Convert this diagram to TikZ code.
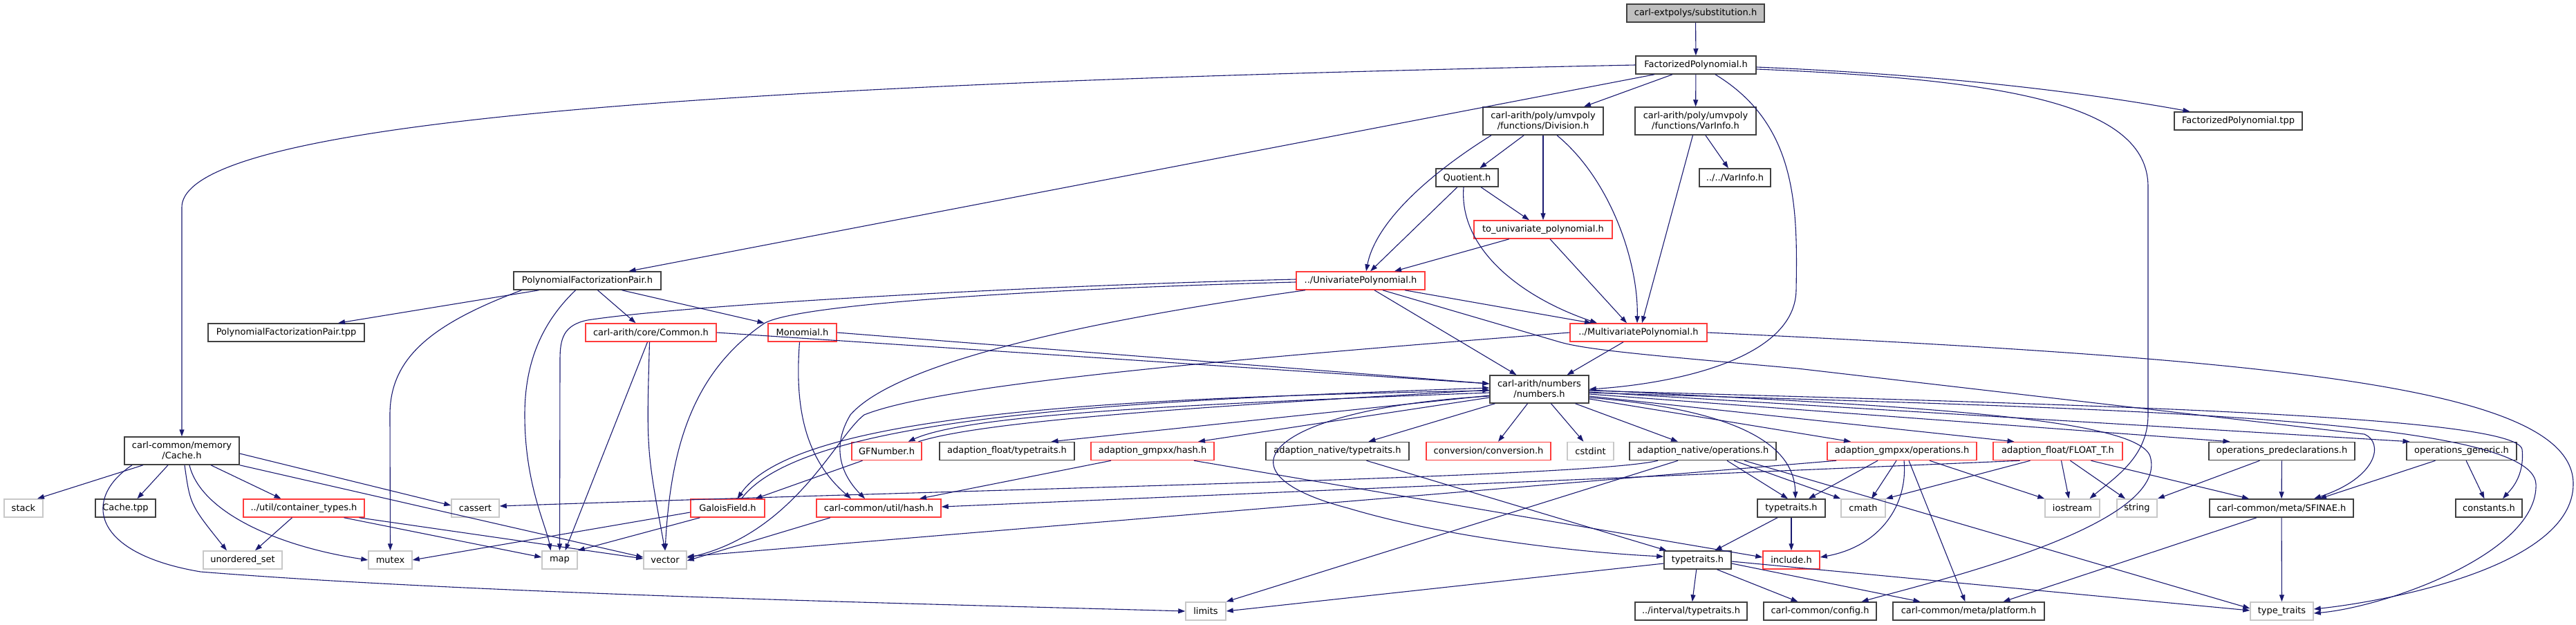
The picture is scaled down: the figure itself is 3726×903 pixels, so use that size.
\documentclass[tikz,border=0pt]{standalone}
\usepackage{fontspec}
\setmainfont{DejaVu Sans}
\usetikzlibrary{arrows.meta}
\definecolor{edgeblue}{HTML}{191970}
\definecolor{boxblack}{HTML}{404040}
\definecolor{boxred}{HTML}{FF3B3B}
\definecolor{boxgray}{HTML}{C8C8C8}
\definecolor{rootgray}{HTML}{BFBFBF}
\begin{document}
\begin{tikzpicture}[x=1pt,y=-1pt,
 hdr/.style={draw=boxblack, line width=1.5pt, fill=white, inner sep=0pt, minimum height=26pt, font=\fontsize{13}{15}\selectfont, align=center},
 hdrred/.style={hdr, draw=boxred},
 hdrsys/.style={hdr, draw=boxgray},
 dep/.style={draw=edgeblue, line width=1.1pt, -{Triangle[length=10pt,width=7pt]}}
]
\useasboundingbox (0,0) rectangle (3726,903);
% ---------- nodes ----------
\node[hdr, fill=rootgray, minimum width=199pt] (subst) at (2452.5,19) {carl-extpolys/substitution.h};
\node[hdr, minimum width=174pt] (fpoly) at (2453,94) {FactorizedPolynomial.h};
\node[hdr, minimum width=213pt] (pfp) at (849.5,406) {PolynomialFactorizationPair.h};
\node[hdr, minimum width=174pt, minimum height=40pt] (div) at (2232,175) {carl-arith/poly/umvpoly\\/functions/Division.h};
\node[hdr, minimum width=175pt, minimum height=40pt] (varinfo) at (2452.5,175) {carl-arith/poly/umvpoly\\/functions/VarInfo.h};
\node[hdr, minimum width=185pt] (fptpp) at (3237.5,175) {FactorizedPolynomial.tpp};
\node[hdr, minimum width=90pt] (quot) at (2122,257) {Quotient.h};
\node[hdr, minimum width=103pt] (vvinfo) at (2509.5,257) {../../VarInfo.h};
\node[hdrred, minimum width=200pt] (touni) at (2232,332) {to\_univariate\_polynomial.h};
\node[hdrred, minimum width=186pt] (uni) at (1968,406) {../UnivariatePolynomial.h};
\node[hdrred, minimum width=198pt] (multi) at (2370,481) {../MultivariatePolynomial.h};
\node[hdr, minimum width=226pt] (pfptpp) at (414,481) {PolynomialFactorizationPair.tpp};
\node[hdrred, minimum width=189pt] (common) at (941.5,481) {carl-arith/core/Common.h};
\node[hdrred, minimum width=99pt] (mono) at (1160.5,481) {Monomial.h};
\node[hdr, minimum width=166pt, minimum height=40pt] (cache) at (263,652) {carl-common/memory\\/Cache.h};
\node[hdr, minimum width=143pt, minimum height=40pt] (numbers) at (2226.5,563) {carl-arith/numbers\\/numbers.h};
% row 652
\node[hdrred, minimum width=101pt] (gfnum) at (1282.5,652.5) {GFNumber.h};
\node[hdr, minimum width=195pt] (aftt) at (1456.5,652.5) {adaption\_float/typetraits.h};
\node[hdrred, minimum width=178pt] (gmhash) at (1667,652.5) {adaption\_gmpxx/hash.h};
\node[hdr, minimum width=207pt] (nattt) at (1934.5,652.5) {adaption\_native/typetraits.h};
\node[hdrred, minimum width=180pt] (conv) at (2153,652.5) {conversion/conversion.h};
\node[hdrsys, minimum width=67pt] (cstdint) at (2300.5,652.5) {cstdint};
\node[hdr, minimum width=212pt] (natops) at (2463,652.5) {adaption\_native/operations.h};
\node[hdrred, minimum width=216pt] (gmops) at (2751,652.5) {adaption\_gmpxx/operations.h};
\node[hdrred, minimum width=187pt] (floatt) at (2976.5,652.5) {adaption\_float/FLOAT\_T.h};
\node[hdr, minimum width=211pt] (opspre) at (3300.5,652.5) {operations\_predeclarations.h};
\node[hdr, minimum width=159pt] (opsgen) at (3560.5,652.5) {operations\_generic.h};
% row 735
\node[hdrsys, minimum width=56pt] (stack) at (34,735) {stack};
\node[hdr, minimum width=87pt] (cachetpp) at (181.5,735) {Cache.tpp};
\node[hdrred, minimum width=175pt] (ctypes) at (439.5,735) {../util/container\_types.h};
\node[hdrsys, minimum width=69pt] (cassert) at (687.5,735) {cassert};
\node[hdrred, minimum width=107pt] (galois) at (1052.5,735) {GaloisField.h};
\node[hdrred, minimum width=180pt] (uhash) at (1271,735) {carl-common/util/hash.h};
\node[hdr, minimum width=98pt] (tta) at (2591,735) {typetraits.h};
\node[hdrsys, minimum width=64pt] (cmath) at (2695,735) {cmath};
\node[hdrsys, minimum width=79pt] (iostream) at (2997.5,735) {iostream};
\node[hdrsys, minimum width=58pt] (string) at (3091,735) {string};
\node[hdr, minimum width=208pt] (sfinae) at (3300,735) {carl-common/meta/SFINAE.h};
\node[hdr, minimum width=96pt] (constants) at (3600,735) {constants.h};
% row 810
\node[hdrsys, minimum width=114pt] (uset) at (351,810) {unordered\_set};
\node[hdrsys, minimum width=63pt] (mutex) at (564.5,810) {mutex};
\node[hdrsys, minimum width=51pt] (map) at (809.5,810) {map};
\node[hdrsys, minimum width=62pt] (vector) at (962,810) {vector};
\node[hdr, minimum width=97pt] (ttb) at (2455.5,810) {typetraits.h};
\node[hdrred, minimum width=82pt] (include) at (2591,810) {include.h};
% row 884
\node[hdrsys, minimum width=58pt] (limits) at (1744,884) {limits};
\node[hdr, minimum width=162pt] (itt) at (2446,884) {../interval/typetraits.h};
\node[hdr, minimum width=163pt] (config) at (2632.5,884) {carl-common/config.h};
\node[hdr, minimum width=219pt] (platform) at (2847.5,884) {carl-common/meta/platform.h};
\node[hdrsys, minimum width=91pt] (stdtt) at (3300.5,884) {type\_traits};
% ---------- edges ----------
\draw[dep] (subst) -- (fpoly);
\draw[dep] (fpoly.west) .. controls (1100,120) and (263,170) .. (263,300) -- (cache.north);
\draw[dep] ([xshift=-60pt]fpoly.south) -- ([xshift=60pt]pfp.north);
\draw[dep] ([xshift=-34pt]fpoly.south) -- ([xshift=59pt]div.north);
\draw[dep] (fpoly) -- (varinfo);
\draw[dep] ([xshift=28pt]fpoly.south) .. controls (2600,180) and (2600,300) .. (2598,420) .. controls (2596,520) and (2420,555) .. (numbers.east);
\draw[dep] ([yshift=-3pt]fpoly.east) .. controls (2850,110) and (3050,140) .. ([xshift=-70pt]fptpp.north);
\draw[dep] ([yshift=-6pt]fpoly.east) .. controls (2900,115) and (3107,150) .. (3107,270) -- (3107,600) .. controls (3107,660) and (3060,690) .. ([xshift=25pt]iostream.north);
\draw[dep] (div) -- (quot);
\draw[dep] (div) -- (touni);
\draw[dep] ([xshift=-75pt]div.south) .. controls (2070,250) and (1990,320) .. ([xshift=8pt]uni.north);
\draw[dep] ([xshift=20pt]div.south) .. controls (2330,260) and (2370,380) .. ([xshift=-2pt]multi.north);
\draw[dep] (varinfo) -- (vvinfo);
\draw[dep] ([xshift=-4pt]varinfo.south) -- ([xshift=5pt]multi.north);
\draw[dep] (quot) -- (touni);
\draw[dep] (quot) -- (uni);
\draw[dep] ([xshift=-5pt]quot.south) .. controls (2110,360) and (2200,430) .. ([xshift=-60pt]multi.north);
\draw[dep] (touni) -- (uni);
\draw[dep] ([xshift=10pt]touni.south) -- ([xshift=-17pt]multi.north);
\draw[dep] ([xshift=64pt]uni.south) -- ([xshift=-68pt]multi.north);
\draw[dep] ([xshift=20pt]uni.south) -- ([xshift=-33pt]numbers.north);
\draw[dep] ([xshift=-22pt]multi.south) -- ([xshift=40pt]numbers.north);
\draw[dep] ([xshift=32pt]uni.south) -- (2257,495) .. controls (2300,507) and (2400,515) .. (2600,533) -- (3420,628) .. controls (3448,640) and (3440,690) .. ([xshift=47pt]sfinae.north);
\draw[dep] (multi.east) .. controls (3300,520) and (3722,560) .. (3722,700) .. controls (3722,820) and (3450,870) .. ([yshift=3pt]stdtt.east);
\draw[dep] ([yshift=2pt]uni.west) .. controls (1500,413) and (1000,440) .. (850,463) .. controls (815,470) and (810,490) .. (810,520) -- (map.north);
\draw[dep] ([yshift=-2pt]uni.west) .. controls (1500,418) and (1150,440) .. (1105,468) .. controls (1000,540) and (970,650) .. (vector.north);
\draw[dep] ([xshift=-80pt]uni.south) .. controls (1600,460) and (1300,520) .. (1230,600) .. controls (1200,650) and (1220,690) .. ([xshift=-20pt]uhash.north);
\draw[dep] (multi.west) .. controls (1700,525) and (1350,560) .. (1250,600) .. controls (1210,630) and (1150,770) .. ([yshift=3pt]vector.east);
% PFP
\draw[dep] ([xshift=-70pt]pfp.south) -- ([xshift=75pt]pfptpp.north);
\draw[dep] ([xshift=-95pt]pfp.south) .. controls (620,470) and (564,520) .. (564,600) -- (mutex.north);
\draw[dep] ([xshift=-17pt]pfp.south) .. controls (780,470) and (759,530) .. (759,600) .. controls (759,700) and (790,760) .. ([xshift=-13pt]map.north);
\draw[dep] ([xshift=15pt]pfp.south) -- ([xshift=-22pt]common.north);
\draw[dep] ([xshift=50pt]pfp.south) -- ([xshift=-55pt]mono.north);
\draw[dep] ([xshift=-5pt]common.south) -- ([xshift=8pt]map.north);
\draw[dep] ([xshift=-2pt]common.south) .. controls (935,650) .. (vector.north);
\draw[dep] (common.east) -- ([yshift=8pt]numbers.west);
\draw[dep] (mono.east) -- ([yshift=8pt]numbers.west);
\draw[dep] ([xshift=-4pt]mono.south) .. controls (1150,580) and (1160,660) .. ([xshift=-40pt]uhash.north);
% Cache
\draw[dep] ([xshift=-56pt]cache.south) -- ([xshift=20pt]stack.north);
\draw[dep] ([xshift=-20pt]cache.south) -- ([xshift=17pt]cachetpp.north);
\draw[dep] ([xshift=42pt]cache.south) -- ([xshift=-33pt]ctypes.north);
\draw[dep] ([yshift=-4pt]cache.east) -- ([yshift=4pt]cassert.west);
\draw[dep] ([xshift=4pt]cache.south) .. controls (275,730) .. ([xshift=-23pt]uset.north);
\draw[dep] ([xshift=11pt]cache.south) .. controls (290,740) and (400,790) .. (mutex.west);
\draw[dep] (cache.south east) -- ([yshift=4pt]vector.west);
\draw[dep] ([xshift=-72pt]cache.south) .. controls (120,720) and (130,800) .. (290,827) .. controls (700,860) and (1400,875) .. (limits.west);
\draw[dep] ([xshift=-17pt]ctypes.south) -- ([xshift=18pt]uset.north);
\draw[dep] ([xshift=58pt]ctypes.south) -- ([yshift=4pt]map.west);
\draw[dep] ([xshift=80pt]ctypes.south) -- ([yshift=2pt]vector.west);
\draw[dep] ([yshift=-6pt]galois.west) -- (mutex.east);
\draw[dep] ([xshift=-40pt]galois.south) -- (map.north east);
\draw[dep] ([xshift=-35pt]gfnum.south) -- ([xshift=40pt]galois.north);
\draw[dep] ([xshift=-70pt]uhash.south) -- ([yshift=-1pt]vector.east);
% numbers <-> GF
\draw[dep] ([yshift=-2pt]numbers.west) .. controls (1600,575) and (1150,600) .. ([xshift=14pt]galois.north);
\draw[dep] ([xshift=20pt]galois.north) .. controls (1160,605) and (1600,580) .. ([yshift=2pt]numbers.west);
\draw[dep] ([yshift=-5pt]numbers.west) .. controls (1700,585) and (1400,600) .. ([xshift=31pt]gfnum.north);
\draw[dep] ([xshift=46pt]gfnum.north) .. controls (1420,610) and (1700,590) .. ([yshift=-1pt]numbers.west);
% numbers out
\draw[dep] ([yshift=-9pt]numbers.west) -- ([xshift=64pt]aftt.north);
\draw[dep] ([yshift=-12pt]numbers.west) -- ([xshift=66pt]gmhash.north);
\draw[dep] ([xshift=-64pt]numbers.south) -- ([xshift=45pt]nattt.north);
\draw[dep] ([xshift=-17pt]numbers.south) -- ([xshift=14pt]conv.north);
\draw[dep] ([xshift=17pt]numbers.south) -- ([xshift=-10pt]cstdint.north);
\draw[dep] ([xshift=52pt]numbers.south) -- ([xshift=-36pt]natops.north);
\draw[dep] ([yshift=-14pt]numbers.east) -- ([xshift=-74pt]gmops.north);
\draw[dep] ([yshift=-10pt]numbers.east) -- ([xshift=-63pt]floatt.north);
\draw[dep] ([yshift=-7pt]numbers.east) -- ([xshift=-75pt]opspre.north);
\draw[dep] ([yshift=-4pt]numbers.east) -- ([xshift=-75pt]opsgen.north);
\draw[dep] ([yshift=-2pt]numbers.east) .. controls (3000,585) and (3640,600) .. (3648,650) .. controls (3652,690) and (3630,710) .. ([xshift=20pt]constants.north);
\draw[dep] ([yshift=-5pt]numbers.east) .. controls (3000,590) and (3664,600) .. (3668,700) .. controls (3672,800) and (3450,878) .. ([yshift=-3pt]stdtt.east);
\draw[dep] ([yshift=-1pt]numbers.east) .. controls (2700,585) and (3090,600) .. (3110,660) .. controls (3140,760) and (2800,840) .. ([xshift=60pt]config.north);
\draw[dep] ([yshift=-12pt]numbers.east) .. controls (2480,590) and (2595,630) .. ([xshift=6pt]tta.north);
\draw[dep] ([yshift=-10pt]numbers.west) .. controls (1850,590) and (1740,680) .. (1950,735) .. controls (2100,780) and (2300,800) .. ([yshift=5pt]ttb.west);
% second level
\draw[dep] ([xshift=-60pt]gmhash.south) -- ([xshift=59pt]uhash.north);
\draw[dep] ([xshift=60pt]gmhash.south) -- ([yshift=4pt]include.west);
\draw[dep] ([xshift=42pt]nattt.south) -- ([xshift=-45pt]ttb.north);
\draw[dep] ([xshift=-65pt]natops.south) .. controls (2300,690) and (1500,705) .. ([yshift=3pt]cassert.east);
\draw[dep] ([xshift=-36pt]natops.south) -- (limits.north east);
\draw[dep] ([xshift=35pt]natops.south) -- ([xshift=-5pt]tta.north);
\draw[dep] ([xshift=45pt]natops.south) -- (cmath.north west);
\draw[dep] ([xshift=60pt]natops.south) -- ([yshift=4pt]stdtt.west);
\draw[dep] ([xshift=-95pt]gmops.south) -- ([yshift=5pt]vector.east);
\draw[dep] ([xshift=-35pt]gmops.south) -- ([xshift=25pt]tta.north);
\draw[dep] ([xshift=-8pt]gmops.south) -- ([xshift=12pt]cmath.north);
\draw[dep] ([xshift=3pt]gmops.south) .. controls (2760,730) and (2720,790) .. ([yshift=4pt]include.east);
\draw[dep] ([xshift=10pt]gmops.south) -- ([xshift=-5pt]platform.north);
\draw[dep] ([xshift=40pt]gmops.south) -- (iostream.north west);
\draw[dep] ([xshift=-55pt]floatt.south) -- ([yshift=2pt]uhash.east);
\draw[dep] ([xshift=-40pt]floatt.south) -- (cmath.north east);
\draw[dep] ([xshift=5pt]floatt.south) -- ([xshift=-5pt]iostream.north);
\draw[dep] ([xshift=18pt]floatt.south) -- ([xshift=-17pt]string.north);
\draw[dep] ([xshift=48pt]floatt.south) -- ([xshift=-47pt]sfinae.north);
\draw[dep] ([xshift=-32pt]opspre.south) -- (string.north east);
\draw[dep] (opspre) -- (sfinae);
\draw[dep] ([xshift=-38pt]opsgen.south) -- ([xshift=55pt]sfinae.north);
\draw[dep] (opsgen) -- (constants);
\draw[dep] ([xshift=-36pt]sfinae.south) -- ([xshift=50pt]platform.north);
\draw[dep] (sfinae) -- (stdtt);
\draw[dep] (tta) -- (include);
\draw[dep] ([xshift=-20pt]tta.south) -- ([xshift=25pt]ttb.north);
\draw[dep] ([yshift=-5pt]ttb.west) -- (limits.east);
\draw[dep] (ttb) -- (itt);
\draw[dep] ([xshift=28pt]ttb.south) -- ([xshift=-32pt]config.north);
\draw[dep] ([yshift=-5pt]ttb.east) -- ([xshift=-70pt]platform.north);
\draw[dep] ([yshift=-2pt]ttb.east) -- ([yshift=1pt]stdtt.west);
\end{tikzpicture}
\end{document}
